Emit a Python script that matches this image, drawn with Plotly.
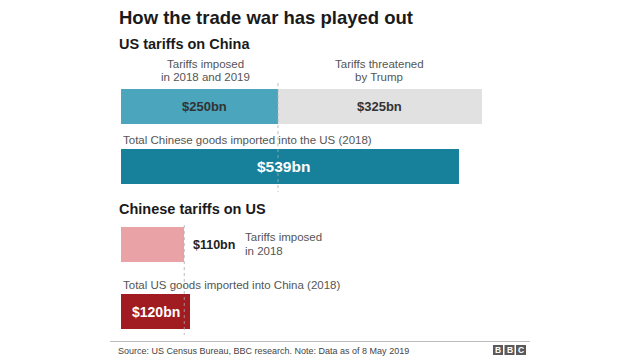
import plotly.graph_objects as go

# ---- data ----
us_imposed = 250
us_threatened = 325
cn_goods_to_us = 539
cn_imposed = 110
us_goods_to_cn = 120

title = "How the trade war has played out"
sec1 = "US tariffs on China"
sec2 = "Chinese tariffs on US"
lbl_imposed = ["Tariffs imposed", "in 2018 and 2019"]
lbl_threat = ["Tariffs threatened", "by Trump"]
lbl_total_cn = "Total Chinese goods imported into the US (2018)"
lbl_cn_imposed = ["Tariffs imposed", "in 2018"]
lbl_total_us = "Total US goods imported into China (2018)"
source = "Source: US Census Bureau, BBC research. Note: Data as of 8 May 2019"

FONT = "Liberation Sans, Arial, Helvetica, sans-serif"
TEAL_L = "#4aa5bd"
TEAL_D = "#17809a"
GREY = "#e1e1e1"
PINK = "#e9a2a6"
RED = "#a01c20"

W, H = 640, 360
x0px = 121
k1 = 361 / 575   # px per bn, top section
k2 = 69 / 120    # px per bn, bottom section

fig = go.Figure()

# top section bars (xaxis / yaxis)
fig.add_trace(go.Bar(y=[0], x=[us_imposed], base=[0], orientation="h", width=0.583,
                     marker=dict(color=TEAL_L, line=dict(width=0)), hoverinfo="skip",
                     xaxis="x", yaxis="y"))
fig.add_trace(go.Bar(y=[0], x=[us_threatened], base=[us_imposed], orientation="h", width=0.583,
                     marker=dict(color=GREY, line=dict(width=0)), hoverinfo="skip",
                     xaxis="x", yaxis="y"))
fig.add_trace(go.Bar(y=[1], x=[cn_goods_to_us], base=[0], orientation="h", width=0.583,
                     marker=dict(color=TEAL_D, line=dict(width=0)), hoverinfo="skip",
                     xaxis="x", yaxis="y"))
# bottom section bars (xaxis2 / yaxis2)
fig.add_trace(go.Bar(y=[0], x=[cn_imposed], base=[0], orientation="h", width=0.522,
                     marker=dict(color=PINK, line=dict(width=0)), hoverinfo="skip",
                     xaxis="x2", yaxis="y2"))
fig.add_trace(go.Bar(y=[1], x=[us_goods_to_cn], base=[0], orientation="h", width=0.522,
                     marker=dict(color=RED, line=dict(width=0)), hoverinfo="skip",
                     xaxis="x2", yaxis="y2"))

hidden = dict(visible=False, showgrid=False, zeroline=False, fixedrange=True)
fig.update_layout(
    width=W, height=H, margin=dict(l=0, r=0, t=0, b=0),
    paper_bgcolor="white", plot_bgcolor="rgba(0,0,0,0)",
    barmode="overlay", showlegend=False, bargap=0,
    xaxis=dict(hidden, domain=[0, 1], range=[-x0px / k1, (W - x0px) / k1]),
    yaxis=dict(hidden, domain=[0, 1], range=[(H - 106.5) / 60, -106.5 / 60]),
    xaxis2=dict(hidden, domain=[0, 1], range=[-x0px / k2, (W - x0px) / k2], anchor="y2"),
    yaxis2=dict(hidden, domain=[0, 1], range=[(H - 244.5) / 67, -244.5 / 67], anchor="x2"),
)

# dashed reference lines
fig.add_shape(type="line", xref="x", yref="y", x0=us_imposed, x1=us_imposed,
              y0=-0.39, y1=1.425, line=dict(color="rgba(170,170,170,0.8)", width=1, dash="dot"),
              layer="above")
fig.add_shape(type="line", xref="x2", yref="y2", x0=cn_imposed, x1=cn_imposed,
              y0=-0.29, y1=1.35, line=dict(color="rgba(170,170,170,0.8)", width=1, dash="dot"),
              layer="above")

def pann(text, x, y, size, color="#222", bold=False, xanchor="left"):
    fig.add_annotation(text=f"<b>{text}</b>" if bold else text, xref="paper", yref="paper",
                       x=x / W, y=1 - y / H, xanchor=xanchor, yanchor="middle",
                       showarrow=False, font=dict(family=FONT, size=size, color=color))

pann(title, 117, 17, 18.5, "#1a1a1a", bold=True)
pann(sec1, 117, 43.5, 14.5, "#1a1a1a", bold=True)
pann(sec2, 117, 208.5, 14.5, "#1a1a1a", bold=True)
pann(lbl_imposed[0], 205, 64, 11.5, "#555", xanchor="center")
pann(lbl_imposed[1], 205, 77.3, 11.5, "#555", xanchor="center")
pann(lbl_threat[0], 379, 64, 11.5, "#555", xanchor="center")
pann(lbl_threat[1], 379, 77.3, 11.5, "#555", xanchor="center")
pann(lbl_total_cn, 121, 140, 11.5, "#555")
pann(lbl_cn_imposed[0], 243, 237, 11.5, "#555")
pann(lbl_cn_imposed[1], 243, 250.5, 11.5, "#555")
pann(lbl_total_us, 121, 284.5, 11.5, "#555")
pann(source, 116, 351, 9, "#444")

# bar value labels in data coords
def dann(text, x, y, xr, yr, size, color, xanchor="center", xshift=0):
    fig.add_annotation(text=f"<b>{text}</b>", xref=xr, yref=yr, x=x, y=y,
                       xanchor=xanchor, yanchor="middle", showarrow=False, xshift=xshift,
                       font=dict(family=FONT, size=size, color=color))

dann(f"${us_imposed}bn", us_imposed / 2, 0, "x", "y", 13, "#333", xshift=5)
dann(f"${us_threatened}bn", us_imposed + us_threatened / 2, 0, "x", "y", 13, "#333")
dann(f"${cn_goods_to_us}bn", cn_goods_to_us / 2, 1, "x", "y", 15.5, "white", xshift=-7)
dann(f"${cn_imposed}bn", cn_imposed, 0, "x2", "y2", 12.5, "#222", xanchor="left", xshift=7)
dann(f"${us_goods_to_cn}bn", us_goods_to_cn / 2, 1, "x2", "y2", 14, "white")

# footer rule
fig.add_shape(type="line", xref="paper", yref="paper", x0=110 / W, x1=530 / W,
              y0=1 - 341.5 / H, y1=1 - 341.5 / H, line=dict(color="#bbb", width=1))

# BBC logo blocks
for i, ch in enumerate("BBC"):
    xl = 493 + i * 11.5
    fig.add_shape(type="rect", xref="paper", yref="paper", x0=xl / W, x1=(xl + 10) / W,
                  y0=1 - 355 / H, y1=1 - 345 / H, fillcolor="#5a5a5a", line=dict(width=0))
    fig.add_annotation(text=f"<b>{ch}</b>", xref="paper", yref="paper", x=(xl + 5) / W,
                       y=1 - 350 / H, xanchor="center", yanchor="middle", showarrow=False,
                       font=dict(family=FONT, size=8.5, color="white"))

fig.write_html("out.html", config={"displayModeBar": False},
               post_script="document.body.style.margin='0';document.body.style.overflow='hidden';")
